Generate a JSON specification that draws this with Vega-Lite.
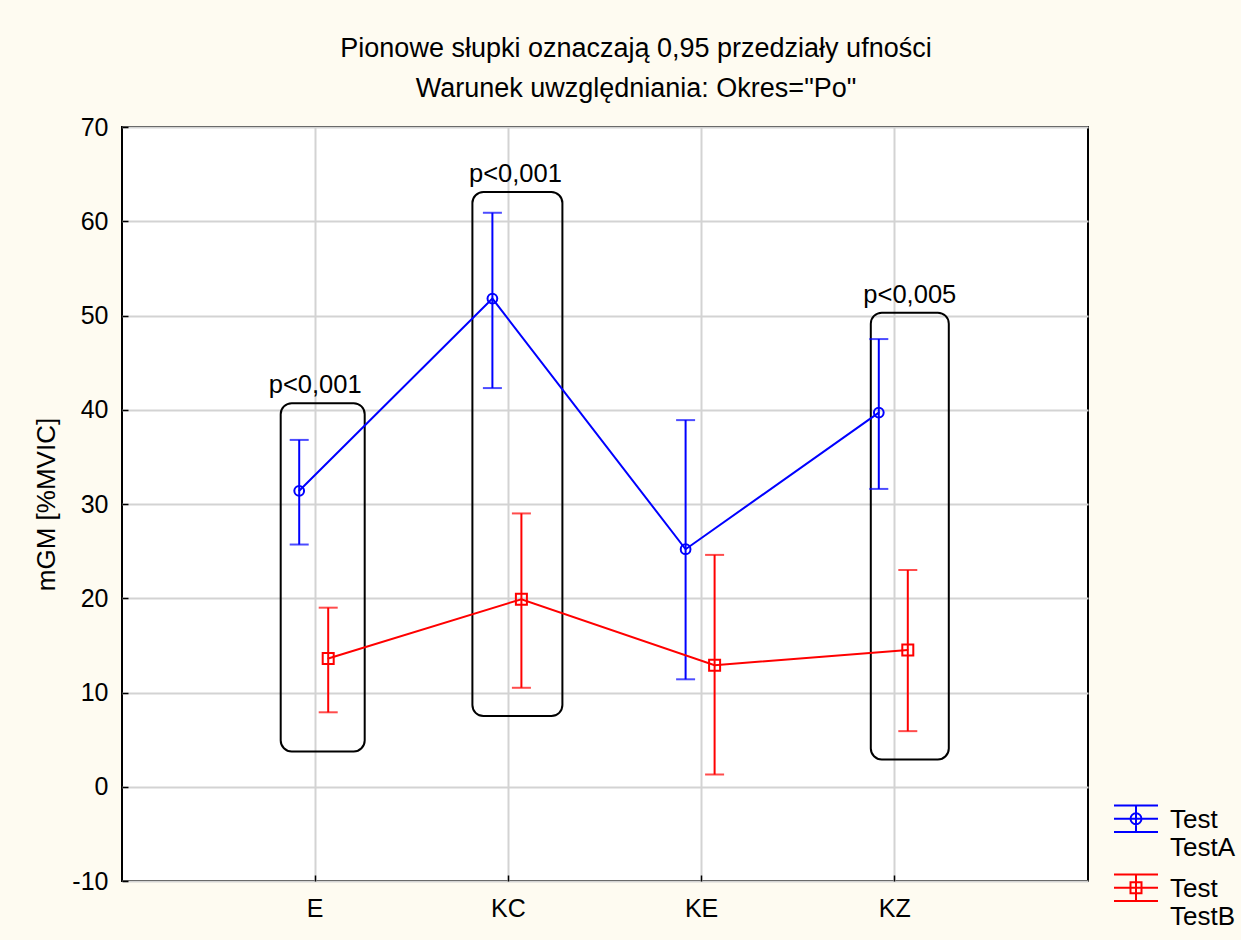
{
  "$schema": "https://vega.github.io/schema/vega-lite/v6.json",
  "width": 966,
  "height": 754,
  "autosize": {"type": "none"},
  "padding": {"left": 122, "top": 127, "right": 153, "bottom": 59},
  "background": "#FEFBF1",
  "config": {
    "font": "Liberation Sans",
    "view": {"fill": "white", "stroke": "black", "strokeWidth": 2},
    "axis": {
      "labelFont": "Liberation Sans", "labelFontSize": 25, "labelColor": "black",
      "titleFont": "Liberation Sans", "titleFontSize": 26, "titleFontWeight": "normal", "titleColor": "black",
      "gridColor": "#D3D3D3", "gridWidth": 2, "gridOpacity": 1, "domain": false,
      "tickColor": "black", "tickWidth": 1.5, "tickSize": -6
    }
  },
  "title": {
    "text": ["Pionowe słupki oznaczają 0,95 przedziały ufności", "Warunek uwzględniania: Okres=\"Po\""],
    "font": "Liberation Sans", "fontSize": 27, "fontWeight": "normal", "color": "black",
    "lineHeight": 40, "dx": 31, "offset": 12, "anchor": "middle"
  },
  "datasets": {
    "means": [
      {"cat": "E", "grupa": "TestA", "mean": 31.4, "lo": 25.7, "hi": 36.8},
      {"cat": "E", "grupa": "TestB", "mean": 13.6, "lo": 7.9, "hi": 19.0},
      {"cat": "KC", "grupa": "TestA", "mean": 51.8, "lo": 42.3, "hi": 60.9},
      {"cat": "KC", "grupa": "TestB", "mean": 19.9, "lo": 10.5, "hi": 29.0},
      {"cat": "KE", "grupa": "TestA", "mean": 25.2, "lo": 11.4, "hi": 38.9},
      {"cat": "KE", "grupa": "TestB", "mean": 12.9, "lo": 1.3, "hi": 24.6},
      {"cat": "KZ", "grupa": "TestA", "mean": 39.7, "lo": 31.6, "hi": 47.5},
      {"cat": "KZ", "grupa": "TestB", "mean": 14.5, "lo": 5.9, "hi": 23.0}
    ],
    "boxes": [
      {"cat": "E", "top": 40.7, "bottom": 3.75, "label": "p<0,001"},
      {"cat": "KC", "top": 63.1, "bottom": 7.5, "label": "p<0,001"},
      {"cat": "KZ", "top": 50.3, "bottom": 2.9, "label": "p<0,005"}
    ]
  },
  "encoding": {
    "x": {
      "field": "cat", "type": "nominal",
      "scale": {"type": "band", "paddingInner": 1, "paddingOuter": 1, "domain": ["E", "KC", "KE", "KZ"]},
      "axis": {"title": null, "labelAngle": 0, "labelPadding": 21, "grid": true, "bandPosition": 0}
    }
  },
  "layer": [
    {
      "data": {"name": "boxes"},
      "transform": [{"filter": "datum.cat == 'E'"}],
      "mark": {"type": "bar", "width": 84, "xOffset": 7.5, "fill": null, "fillOpacity": 0, "stroke": "black", "strokeWidth": 2, "cornerRadius": 11},
      "encoding": {
        "y": {"field": "top", "type": "quantitative", "scale": {"domain": [-10, 70], "nice": false, "zero": false},
              "axis": {"title": "mGM [%MVIC]", "values": [-10, 0, 10, 20, 30, 40, 50, 60, 70], "labelExpr": "'' + datum.value", "labelPadding": 20, "titlePadding": 12, "grid": true}},
        "y2": {"field": "bottom"}
      }
    },
    {
      "data": {"name": "boxes"},
      "transform": [{"filter": "datum.cat == 'KC'"}],
      "mark": {"type": "bar", "width": 90, "xOffset": 9, "fill": null, "fillOpacity": 0, "stroke": "black", "strokeWidth": 2, "cornerRadius": 11},
      "encoding": {"y": {"field": "top", "type": "quantitative"}, "y2": {"field": "bottom"}}
    },
    {
      "data": {"name": "boxes"},
      "transform": [{"filter": "datum.cat == 'KZ'"}],
      "mark": {"type": "bar", "width": 78, "xOffset": 15, "fill": null, "fillOpacity": 0, "stroke": "black", "strokeWidth": 2, "cornerRadius": 11},
      "encoding": {"y": {"field": "top", "type": "quantitative"}, "y2": {"field": "bottom"}}
    },
    {
      "data": {"name": "boxes"},
      "transform": [{"filter": "datum.cat == 'E'"}],
      "mark": {"type": "text", "fontSize": 25.5, "font": "Liberation Sans", "color": "black", "baseline": "alphabetic", "dy": -10, "xOffset": 0},
      "encoding": {"y": {"field": "top", "type": "quantitative"}, "text": {"field": "label"}}
    },
    {
      "data": {"name": "boxes"},
      "transform": [{"filter": "datum.cat == 'KC'"}],
      "mark": {"type": "text", "fontSize": 25.5, "font": "Liberation Sans", "color": "black", "baseline": "alphabetic", "dy": -10, "xOffset": 7},
      "encoding": {"y": {"field": "top", "type": "quantitative"}, "text": {"field": "label"}}
    },
    {
      "data": {"name": "boxes"},
      "transform": [{"filter": "datum.cat == 'KZ'"}],
      "mark": {"type": "text", "fontSize": 25.5, "font": "Liberation Sans", "color": "black", "baseline": "alphabetic", "dy": -10, "xOffset": 15},
      "encoding": {"y": {"field": "top", "type": "quantitative"}, "text": {"field": "label"}}
    },
    {
      "data": {"name": "means"},
      "mark": {"type": "point", "filled": false, "size": 1, "strokeWidth": 1},
      "encoding": {
        "xOffset": {"field": "grupa", "type": "nominal", "scale": {"type": "point", "padding": 0, "domain": ["TestA", "TestB"], "range": [-16, 13]}},
        "y": {"field": "mean", "type": "quantitative"},
        "color": {
          "field": "grupa", "type": "nominal",
          "scale": {"domain": ["TestA", "TestB"], "range": ["#0000FF", "#FF0000"]},
          "legend": {
            "orient": "none", "legendX": 991, "legendY": 678, "title": null, "padding": 0,
            "labelExpr": "['Test', datum.label]", "labelFont": "Liberation Sans", "labelFontSize": 26, "labelColor": "black",
            "labelOffset": 11, "labelBaseline": "alphabetic", "rowPadding": 9,
            "symbolSize": 1936, "symbolStrokeWidth": 2, "symbolFillColor": "transparent", "symbolOpacity": 1
          }
        },
        "shape": {
          "field": "grupa", "type": "nominal",
          "scale": {"domain": ["TestA", "TestB"], "range": [
            "M-1,-1.02H1M-1,-0.42H1M-1,0.18H1M0,-1.02V0.18M-0.25,-0.42A0.25,0.25 0 1,1 0.25,-0.42A0.25,0.25 0 1,1 -0.25,-0.42Z",
            "M-1,-1.02H1M-1,-0.42H1M-1,0.18H1M0,-1.02V0.18M-0.25,-0.67H0.25V-0.17H-0.25Z"
          ]},
          "legend": {
            "orient": "none", "legendX": 991, "legendY": 678, "title": null, "padding": 0,
            "labelExpr": "['Test', datum.label]", "labelFont": "Liberation Sans", "labelFontSize": 26, "labelColor": "black",
            "labelOffset": 11, "labelBaseline": "alphabetic", "rowPadding": 9,
            "symbolSize": 1936, "symbolStrokeWidth": 2, "symbolFillColor": "transparent", "symbolOpacity": 1
          }
        }
      }
    },
    {
      "data": {"name": "means"},
      "transform": [{"filter": "datum.grupa == 'TestA'"}],
      "layer": [
        {"mark": {"type": "rule", "strokeWidth": 2, "color": "#0000FF"},
         "encoding": {"xOffset": {"field": "grupa", "type": "nominal"}, "y": {"field": "lo", "type": "quantitative"}, "y2": {"field": "hi"}}},
        {"mark": {"type": "tick", "size": 19, "thickness": 2, "orient": "horizontal", "color": "#0000FF"},
         "encoding": {"xOffset": {"field": "grupa", "type": "nominal"}, "y": {"field": "hi", "type": "quantitative"}}},
        {"mark": {"type": "tick", "size": 19, "thickness": 2, "orient": "horizontal", "color": "#0000FF"},
         "encoding": {"xOffset": {"field": "grupa", "type": "nominal"}, "y": {"field": "lo", "type": "quantitative"}}},
        {"mark": {"type": "line", "strokeWidth": 2, "color": "#0000FF"},
         "encoding": {"xOffset": {"field": "grupa", "type": "nominal"}, "y": {"field": "mean", "type": "quantitative"}}},
        {"mark": {"type": "point", "shape": "circle", "filled": false, "size": 95, "strokeWidth": 2, "color": "#0000FF", "opacity": 1},
         "encoding": {"xOffset": {"field": "grupa", "type": "nominal"}, "y": {"field": "mean", "type": "quantitative"}}}
      ]
    },
    {
      "data": {"name": "means"},
      "transform": [{"filter": "datum.grupa == 'TestB'"}],
      "layer": [
        {"mark": {"type": "rule", "strokeWidth": 2, "color": "#FF0000"},
         "encoding": {"xOffset": {"field": "grupa", "type": "nominal"}, "y": {"field": "lo", "type": "quantitative"}, "y2": {"field": "hi"}}},
        {"mark": {"type": "tick", "size": 19, "thickness": 2, "orient": "horizontal", "color": "#FF0000"},
         "encoding": {"xOffset": {"field": "grupa", "type": "nominal"}, "y": {"field": "hi", "type": "quantitative"}}},
        {"mark": {"type": "tick", "size": 19, "thickness": 2, "orient": "horizontal", "color": "#FF0000"},
         "encoding": {"xOffset": {"field": "grupa", "type": "nominal"}, "y": {"field": "lo", "type": "quantitative"}}},
        {"mark": {"type": "line", "strokeWidth": 2, "color": "#FF0000"},
         "encoding": {"xOffset": {"field": "grupa", "type": "nominal"}, "y": {"field": "mean", "type": "quantitative"}}},
        {"mark": {"type": "point", "shape": "square", "filled": false, "size": 121, "strokeWidth": 2, "color": "#FF0000", "opacity": 1},
         "encoding": {"xOffset": {"field": "grupa", "type": "nominal"}, "y": {"field": "mean", "type": "quantitative"}}}
      ]
    }
  ]
}
